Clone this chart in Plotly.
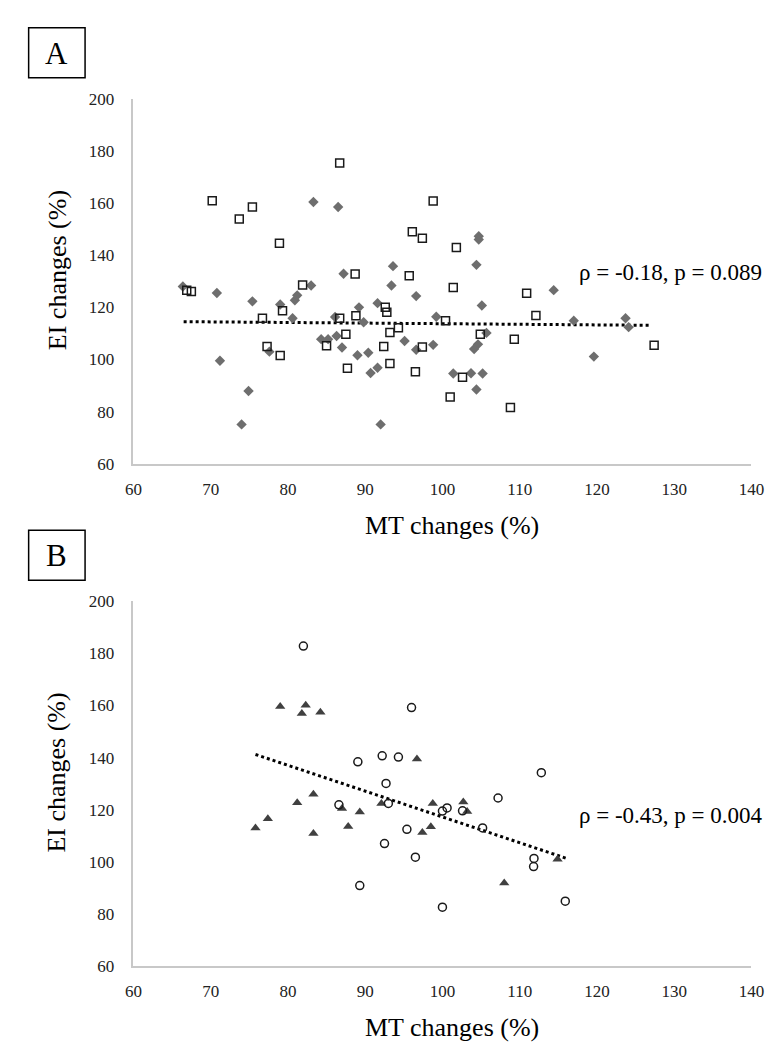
import plotly.graph_objects as go

# ---------------- Data ----------------
# Panel A: open squares
a_sq_x = [70.2, 73.7, 75.4, 78.9, 86.7, 88.7, 81.9, 66.9, 67.5, 76.7, 79.3, 77.3, 79.0, 85.0,
          86.7, 87.5, 88.8, 87.7, 92.6, 92.8, 92.4, 93.2, 93.2, 98.8, 96.1, 97.4, 101.8, 95.7,
          101.4, 110.9, 112.1, 100.4, 94.3, 104.9, 109.3, 97.4, 127.4, 96.5, 102.6, 101.0, 108.8]
a_sq_y = [160.9, 153.9, 158.5, 144.6, 175.4, 132.8, 128.6, 126.6, 126.1, 115.8, 118.7, 105.0,
          101.5, 105.3, 115.8, 109.7, 116.8, 96.6, 120.0, 118.1, 105.0, 110.3, 98.5, 160.8,
          149.0, 146.5, 143.0, 132.1, 127.6, 125.4, 116.9, 114.9, 112.2, 109.7, 107.8, 104.8,
          105.5, 95.3, 93.2, 85.6, 81.6]
# Panel A: grey diamonds
a_dm_x = [66.4, 70.8, 71.2, 74.9, 74.0, 75.4, 77.6, 79.0, 80.6, 80.9, 81.2, 83.3, 83.0, 84.3,
          85.2, 86.5, 86.1, 86.3, 87.2, 87.0, 89.0, 89.2, 89.8, 90.4, 90.7, 91.6, 91.6, 92.0,
          93.4, 93.6, 96.6, 104.7, 104.7, 104.4, 105.1, 114.4, 99.2, 117.0, 123.7, 124.1,
          105.7, 95.1, 98.8, 96.6, 104.6, 104.1, 119.6, 101.4, 103.7, 105.2, 104.4]
a_dm_y = [128.0, 125.5, 99.5, 87.9, 75.1, 122.3, 103.0, 121.1, 115.8, 122.7, 124.6, 160.4,
          128.4, 107.8, 107.8, 158.5, 116.3, 109.0, 132.9, 104.6, 101.6, 120.0, 114.3, 102.6,
          94.8, 96.8, 121.6, 75.1, 128.4, 135.8, 124.3, 147.3, 146.0, 136.3, 120.7, 126.6,
          116.4, 114.9, 115.8, 112.4, 110.2, 107.1, 105.6, 103.7, 105.8, 104.0, 101.1, 94.6,
          94.7, 94.6, 88.5]
a_trend_x = [66.5, 127.0]
a_trend_y = [114.5, 113.1]
a_label = "ρ = -0.18, p = 0.089"

# Panel B: dark triangles
b_tr_x = [75.8, 77.4, 79.0, 82.3, 81.8, 84.2, 81.2, 83.3, 83.3, 87.0, 87.8, 89.3, 92.1, 96.7,
          98.75, 98.5, 97.4, 102.7, 103.2, 108.0, 114.9]
b_tr_y = [113.0, 116.5, 159.6, 160.1, 156.9, 157.4, 122.7, 125.9, 110.9, 120.5, 113.6, 119.1,
          122.4, 139.5, 122.4, 113.5, 111.3, 123.0, 119.3, 91.9, 101.0]
# Panel B: open circles
b_ci_x = [82.0, 89.05, 92.2, 92.7, 86.6, 93.0, 92.5, 89.3, 94.3, 96.0, 112.8, 107.2, 100.0,
          100.6, 102.6, 95.4, 105.2, 96.5, 111.85, 111.8, 100.0, 115.9]
b_ci_y = [182.8, 138.4, 140.7, 130.1, 121.9, 122.4, 107.0, 90.9, 140.2, 159.2, 134.2, 124.5,
          119.5, 120.7, 119.6, 112.5, 113.0, 101.8, 101.3, 98.2, 82.6, 84.9]
b_trend_x = [75.8, 116.0]
b_trend_y = [141.2, 101.4]
b_label = "ρ = -0.43, p = 0.004"

x_ticks = [60, 70, 80, 90, 100, 110, 120, 130, 140]
y_ticks = [60, 80, 100, 120, 140, 160, 180, 200]
x_title = "MT changes (%)"
y_title = "EI changes (%)"
panel_letters = ["A", "B"]

# ---------------- Figure ----------------
W, H = 773, 1046
FONT = "Liberation Serif, Times New Roman, serif"

fig = go.Figure()

def add_panel(xa, ya, traces):
    for t in traces:
        t.update(xaxis=xa, yaxis=ya, showlegend=False, hoverinfo="skip")
        fig.add_trace(t)

add_panel("x", "y", [
    go.Scatter(x=a_trend_x, y=a_trend_y, mode="lines",
               line=dict(color="black", width=3, dash="3px,3px")),
    go.Scatter(x=a_dm_x, y=a_dm_y, mode="markers",
               marker=dict(symbol="diamond", size=8, color="#6e6e6e", line=dict(width=0))),
    go.Scatter(x=a_sq_x, y=a_sq_y, mode="markers",
               marker=dict(symbol="square-open", size=8, color="#1a1a1a", line=dict(width=1.5))),
])
add_panel("x2", "y2", [
    go.Scatter(x=b_trend_x, y=b_trend_y, mode="lines",
               line=dict(color="black", width=3, dash="3px,3px")),
    go.Scatter(x=b_tr_x, y=b_tr_y, mode="markers",
               marker=dict(symbol="triangle-up", size=9, color="#404040", line=dict(width=0))),
    go.Scatter(x=b_ci_x, y=b_ci_y, mode="markers",
               marker=dict(symbol="circle-open", size=8, color="#1a1a1a", line=dict(width=1.5))),
])

xdom = [120.7 / W, 756 / W]
ydomA = [(H - 455) / H, (H - 83.3) / H]
ydomB = [(H - 966.7) / H, (H - 595) / H]

axis_common = dict(showgrid=False, zeroline=False, showline=True, linecolor="#c8c8c8",
                   linewidth=1.5, ticks="", tickfont=dict(family=FONT, size=17, color="#222"))

fig.update_layout(
    width=W, height=H, margin=dict(l=0, r=0, t=0, b=0),
    paper_bgcolor="white", plot_bgcolor="white",
    xaxis=dict(domain=xdom, range=[60, 140], tickvals=x_ticks, anchor="y",
               ticklabelstandoff=9, **axis_common),
    yaxis=dict(domain=ydomA, range=[60, 200], tickvals=y_ticks, anchor="x",
               ticklabelstandoff=14, **axis_common),
    xaxis2=dict(domain=xdom, range=[60, 140], tickvals=x_ticks, anchor="y2",
                ticklabelstandoff=9, **axis_common),
    yaxis2=dict(domain=ydomB, range=[60, 200], tickvals=y_ticks, anchor="x2",
                ticklabelstandoff=14, **axis_common),
)

annotations = []
shapes = []
offsets = [0, 511.7]
for i, (lab, off) in enumerate(zip(panel_letters, offsets)):
    # panel letter box
    shapes.append(dict(type="rect", xref="paper", yref="paper",
                       x0=13 / W, x1=71 / W, y0=1 - (62 + off) / H, y1=1 - (11 + off) / H,
                       line=dict(color="black", width=1.5), fillcolor="rgba(0,0,0,0)"))
    annotations.append(dict(text=lab, xref="paper", yref="paper", x=42 / W, y=1 - (37 + off) / H,
                            showarrow=False, xanchor="center", yanchor="middle",
                            font=dict(family=FONT, size=31, color="black")))
    # axis titles
    annotations.append(dict(text=x_title, xref="paper", yref="paper", x=448.5 / W,
                            y=1 - (518 + off) / H, showarrow=False, xanchor="center",
                            yanchor="middle", font=dict(family=FONT, size=26, color="black")))
    annotations.append(dict(text=y_title, xref="paper", yref="paper", x=42 / W,
                            y=1 - (258 + off) / H, showarrow=False, xanchor="center",
                            yanchor="middle", textangle=-90,
                            font=dict(family=FONT, size=26, color="black")))

annotations.append(dict(text=a_label, xref="x", yref="y", x=117.4, y=133.5, showarrow=False,
                        xanchor="left", yanchor="middle",
                        font=dict(family=FONT, size=23, color="black")))
annotations.append(dict(text=b_label, xref="x2", yref="y2", x=117.4, y=117.8, showarrow=False,
                        xanchor="left", yanchor="middle",
                        font=dict(family=FONT, size=23, color="black")))

fig.update_layout(annotations=annotations, shapes=shapes)
fig.write_html("out.html")
